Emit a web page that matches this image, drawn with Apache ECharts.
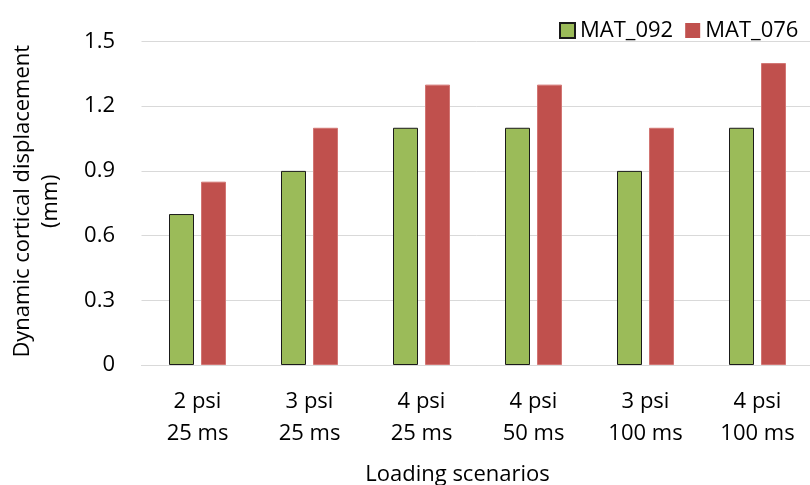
<!DOCTYPE html>
<html>
<head>
<meta charset="utf-8">
<script src="https://cdn.jsdelivr.net/npm/echarts@6/dist/echarts.min.js"></script>
<style>html,body{margin:0;padding:0;background:#fff}#c{width:810px;height:485px}</style>
</head>
<body>
<div id="c"></div>
<script>
const categories = ['2 psi\n25 ms', '3 psi\n25 ms', '4 psi\n25 ms', '4 psi\n50 ms', '3 psi\n100 ms', '4 psi\n100 ms'];
const seriesNames = ['MAT_092', 'MAT_076'];
const mat092 = [0.7, 0.9, 1.1, 1.1, 0.9, 1.1];
const mat076 = [0.85, 1.1, 1.3, 1.3, 1.1, 1.4];
const yTicks = { min: 0, max: 1.5, interval: 0.3 };

const FONT = '"Open Sans"';
const chart = echarts.init(document.getElementById('c'), null, { renderer: 'canvas' });
chart.setOption({
  animation: false,
  textStyle: { fontFamily: FONT, color: '#000' },
  legend: {
    left: 554, top: 14.5, width: 500,
    itemWidth: 15, itemHeight: 15, itemGap: 12,
    icon: 'rect',
    textStyle: { fontFamily: FONT, fontSize: 22, color: '#000' },
    data: [
      { name: seriesNames[0] },
      { name: seriesNames[1], itemStyle: { borderWidth: 0 } }
    ]
  },
  grid: { left: 141.5, top: 41.5, width: 672, height: 323.5, containLabel: false, outerBoundsMode: 'none' },
  xAxis: {
    type: 'category',
    data: categories,
    axisTick: { show: false },
    axisLine: { lineStyle: { color: '#D9D9D9', width: 1 } },
    axisLabel: { margin: 21, fontSize: 22, lineHeight: 32, color: '#000', fontFamily: FONT, interval: 0 },
    name: 'Loading scenarios',
    nameLocation: 'middle',
    nameGap: 99,
    nameTextStyle: { fontSize: 22, color: '#000', fontFamily: FONT, padding: [0, 40, 0, 0] }
  },
  yAxis: {
    type: 'value',
    min: yTicks.min, max: yTicks.max, interval: yTicks.interval,
    axisLine: { show: false },
    axisTick: { show: false },
    splitLine: { lineStyle: { color: '#D9D9D9', width: 1 } },
    axisLabel: { margin: 26.5, fontSize: 22, color: '#000', fontFamily: FONT,
      formatter: v => (Math.abs(v) < 1e-9 ? '0' : v.toFixed(1)) },
    name: 'Dynamic cortical displacement\n(mm)',
    nameLocation: 'middle',
    nameGap: 77,
    nameTextStyle: { fontSize: 22, color: '#000', fontFamily: FONT, lineHeight: 28, align: 'center', padding: [0, 0, 0, 4] }
  },
  series: [
    {
      name: seriesNames[0], type: 'bar', data: mat092,
      barWidth: 25, barGap: '28%',
      itemStyle: { color: '#9BBB59', borderColor: '#1a1a1a', borderWidth: 1 }
    },
    {
      name: seriesNames[1], type: 'bar', data: mat076,
      barWidth: 25, barGap: '28%',
      itemStyle: { color: '#C0504D', borderColor: '#D27573', borderWidth: 1 }
    }
  ]
});
</script>
</body>
</html>
